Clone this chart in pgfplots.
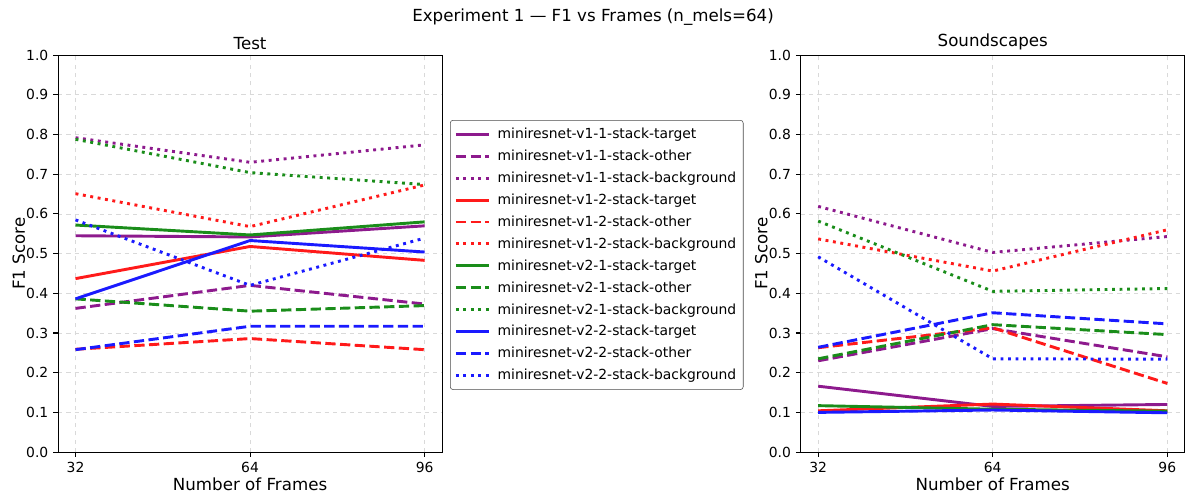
\documentclass[border=0pt]{standalone}
\usepackage{pgfplots}
\pgfplotsset{compat=1.18}
\usepackage{fontspec}
\setmainfont{DejaVu Sans}
\definecolor{cpur}{RGB}{141,26,141}
\definecolor{cred}{RGB}{255,26,26}
\definecolor{cgrn}{RGB}{26,141,26}
\definecolor{cblu}{RGB}{26,26,255}
\tikzset{
  tgt/.style={line width=2.1pt},
  oth/.style={line width=2.1pt, dash pattern=on 7.4pt off 3.2pt},
  bgd/.style={line width=2.1pt, dash pattern=on 2.1pt off 3.3pt},
}
\pgfplotsset{
  myax/.style={
    scale only axis, width=276.5pt, height=285.8pt,
    xmin=28.8, xmax=99.2, ymin=0, ymax=1,
    xtick={32,64,96}, ytick={0,0.1,...,1.0},
    yticklabel style={/pgf/number format/.cd, fixed, fixed zerofill, precision=1},
    /pgf/number format/assume math mode=true,
    ticklabel style={font=\fontsize{10}{12}\selectfont},
    tick align=outside, xtick pos=bottom, ytick pos=left,
    major tick length=3.5pt, tick style={black, line width=0.8pt},
    axis line style={line width=0.8pt},
    grid=major, major grid style={dashed, line width=0.6pt, black!15},
    xlabel={Number of Frames}, ylabel={F1 Score},
    label style={font=\fontsize{12}{14}\selectfont},
    xlabel style={yshift=3pt},
    ylabel style={yshift=-6pt},
    title style={font=\fontsize{12}{14}\selectfont, yshift=-6pt},
    every axis plot/.append style={no markers, line join=round},
  }
}
\begin{document}
\begin{tikzpicture}
\path[use as bounding box] (0,0) rectangle (853.9pt,358.6pt);
\node[font=\fontsize{12}{14}\selectfont] at (427pt,346.5pt) {Experiment 1 — F1 vs Frames (n\_mels=64)};
\begin{axis}[myax, at={(41.8pt,33.1pt)}, anchor=south west, title={Test},
  legend style={at={(1.0206,0.8366)}, anchor=north west, draw=black!70, rounded corners=2pt,
    font=\fontsize{10}{12}\selectfont, row sep=2.7pt, inner xsep=3pt, inner ysep=3.5pt},
  legend cell align=left,
  legend image code/.code={\draw[#1] (0pt,0pt) -- (24pt,0pt); \path (27pt,0pt);}]
\addplot[cpur,tgt] coordinates {(32,0.545) (64,0.542) (96,0.570)};
\addlegendentry{miniresnet-v1-1-stack-target}
\addplot[cpur,oth] coordinates {(32,0.362) (64,0.420) (96,0.373)};
\addlegendentry{miniresnet-v1-1-stack-other}
\addplot[cpur,bgd] coordinates {(32,0.792) (64,0.730) (96,0.774)};
\addlegendentry{miniresnet-v1-1-stack-background}
\addplot[cred,tgt] coordinates {(32,0.437) (64,0.518) (96,0.483)};
\addlegendentry{miniresnet-v1-2-stack-target}
\addplot[cred,oth] coordinates {(32,0.259) (64,0.286) (96,0.258)};
\addlegendentry{miniresnet-v1-2-stack-other}
\addplot[cred,bgd] coordinates {(32,0.651) (64,0.568) (96,0.673)};
\addlegendentry{miniresnet-v1-2-stack-background}
\addplot[cgrn,tgt] coordinates {(32,0.572) (64,0.547) (96,0.580)};
\addlegendentry{miniresnet-v2-1-stack-target}
\addplot[cgrn,oth] coordinates {(32,0.386) (64,0.355) (96,0.369)};
\addlegendentry{miniresnet-v2-1-stack-other}
\addplot[cgrn,bgd] coordinates {(32,0.788) (64,0.704) (96,0.674)};
\addlegendentry{miniresnet-v2-1-stack-background}
\addplot[cblu,tgt] coordinates {(32,0.386) (64,0.533) (96,0.504)};
\addlegendentry{miniresnet-v2-2-stack-target}
\addplot[cblu,oth] coordinates {(32,0.258) (64,0.317) (96,0.317)};
\addlegendentry{miniresnet-v2-2-stack-other}
\addplot[cblu,bgd] coordinates {(32,0.585) (64,0.420) (96,0.539)};
\addlegendentry{miniresnet-v2-2-stack-background}
\end{axis}
\begin{axis}[myax, at={(576.5pt,33.1pt)}, anchor=south west, title={Soundscapes}]
\addplot[cpur,tgt] coordinates {(32,0.166) (64,0.115) (96,0.120)};
\addplot[cpur,oth] coordinates {(32,0.230) (64,0.311) (96,0.240)};
\addplot[cpur,bgd] coordinates {(32,0.619) (64,0.503) (96,0.543)};
\addplot[cred,tgt] coordinates {(32,0.104) (64,0.121) (96,0.104)};
\addplot[cred,oth] coordinates {(32,0.263) (64,0.313) (96,0.173)};
\addplot[cred,bgd] coordinates {(32,0.537) (64,0.456) (96,0.560)};
\addplot[cgrn,tgt] coordinates {(32,0.117) (64,0.108) (96,0.103)};
\addplot[cgrn,oth] coordinates {(32,0.235) (64,0.321) (96,0.296)};
\addplot[cgrn,bgd] coordinates {(32,0.582) (64,0.405) (96,0.412)};
\addplot[cblu,tgt] coordinates {(32,0.100) (64,0.106) (96,0.099)};
\addplot[cblu,oth] coordinates {(32,0.264) (64,0.351) (96,0.323)};
\addplot[cblu,bgd] coordinates {(32,0.492) (64,0.235) (96,0.234)};
\end{axis}
\end{tikzpicture}
\end{document}
